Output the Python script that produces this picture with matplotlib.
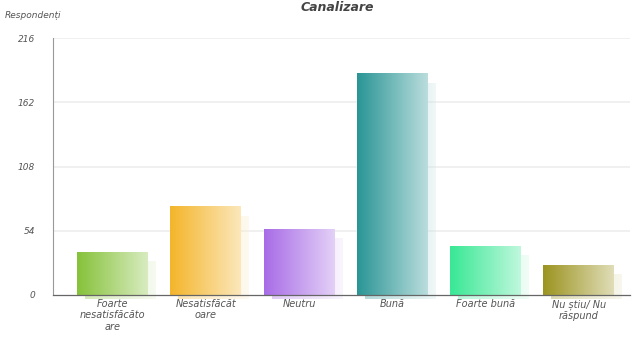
import numpy as np
import matplotlib
matplotlib.use("Agg")
import matplotlib.pyplot as plt
from matplotlib.colors import to_rgb

categories = ["Foarte\nnesatisfăcăto\nare", "Nesatisfăcăt\noare", "Neutru", "Bună",
              "Foarte bună", "Nu știu/ Nu\nrăspund"]
values = [36, 74, 55, 186, 41, 25]
colors = ["#86c23a", "#f4b52a", "#a86ce6", "#2a9595", "#38e894", "#9c9420"]
yticks = [0, 54, 108, 162, 216]

W, H = 643, 344
fig = plt.figure(figsize=(W / 100, H / 100), dpi=100)
ax = fig.add_axes([53 / W, (H - 295) / H, (630 - 53) / W, (295 - 38) / H])

bw = 0.76

def grad_img(c, light):
    c = np.array(to_rgb(c))
    t = np.linspace(0, 1, 100)
    row = c[None, :] * (1 - t[:, None] * light) + np.ones(3)[None, :] * (t[:, None] * light)
    return row[None, :, :]

for i, (v, c) in enumerate(zip(values, colors)):
    x0, x1 = i - bw / 2, i + bw / 2
    dx = 0.085
    dy = 216 * 9 / 257
    ax.imshow(grad_img(c, 0.8), extent=(x0 + dx, x1 + dx, -3, v - dy), aspect="auto",
              alpha=0.35, zorder=1, clip_on=False, interpolation="bilinear")
    ax.imshow(grad_img(c, 0.68), extent=(x0, x1, 0, v), aspect="auto",
              zorder=2, interpolation="bilinear")

ax.set_xlim(-0.64, 5.55)
ax.set_ylim(0, 216)

for y in yticks[1:]:
    ax.axhline(y, color="#eeeeee", lw=1.2, zorder=0)

ax.set_yticks(yticks)
ax.set_yticklabels([str(y) for y in yticks], fontsize=6.5, color="#555555", style="italic")
ax.set_xticks(range(len(categories)))
ax.set_xticklabels(categories, fontsize=7, color="#555555", style="italic", linespacing=1.15)
ax.tick_params(axis="x", length=0, pad=3)
ax.tick_params(axis="y", length=0, pad=13)

for s in ["top", "right"]:
    ax.spines[s].set_visible(False)
ax.spines["left"].set_color("#999999")
ax.spines["left"].set_linewidth(0.8)
ax.spines["bottom"].set_color("#666666")
ax.spines["bottom"].set_linewidth(0.9)
ax.set_zorder(1)

fig.text(5 / W, 1 - 15 / H, "Respondenți", fontsize=6.5, color="#555555",
         style="italic", va="center", ha="left")
fig.text(337 / W, 1 - 1 / H, "Canalizare", fontsize=9, color="#444444",
         style="italic", weight="bold", va="top", ha="center")

fig.savefig("out.png", dpi=100)
